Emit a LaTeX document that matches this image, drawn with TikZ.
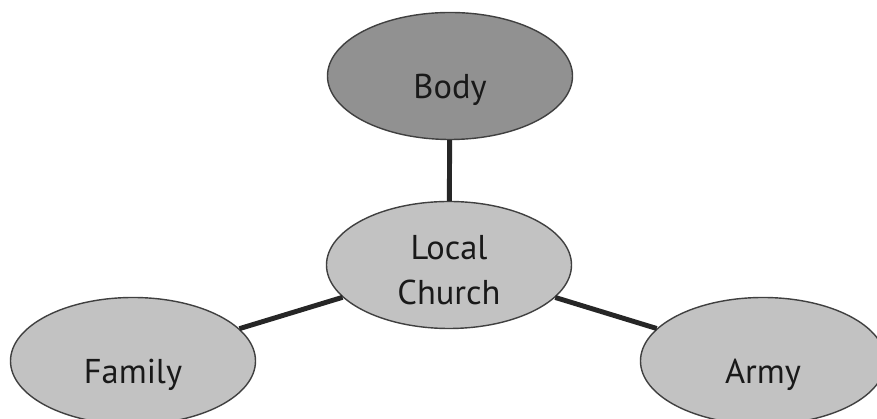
\documentclass[tikz,border=0pt]{standalone}
\usepackage{fontspec}
\setmainfont{PT Sans}
\usetikzlibrary{positioning}
\usetikzlibrary{shapes.geometric}

\newcommand{\bubbletext}[2][-6.4pt]{\raisebox{#1}[0pt][0pt]{\begin{tabular}{@{}c@{}}#2\end{tabular}}}

\tikzset{
	bubble/.style={ellipse, draw=black!75, line width=0.4pt, minimum width=2.45cm, minimum height=1.27cm, inner sep=0pt, font=\fontsize{9.8}{12.8}\selectfont, text=black!90},
	link/.style={line width=1.4pt, black!85}
}

\begin{document}
\begin{tikzpicture}
		% Fix the page to the reference size
		\clip (0,0) rectangle (8.77,4.19);
		\useasboundingbox (0,0) rectangle (8.77,4.19);

		% Define the centres of the ellipses
		\coordinate (B) at (4.50,3.43);
		\coordinate (L) at (4.49,1.54);
		\coordinate (F) at (1.33,0.58);
		\coordinate (A) at (7.63,0.58);

		% Draw the ellipses
		\node[bubble, fill=black!43] (body) at (B) {\bubbletext{Body}};
		\node[bubble, fill=black!24] (church) at (L) {\bubbletext[-4.8pt]{Local\\Church}};
		\node[bubble, fill=black!24] (family) at (F) {\bubbletext{Family}};
		\node[bubble, fill=black!24] (army) at (A) {\bubbletext{Army}};

		% Draw the lines
		\draw[link] (body) -- (church);
		\draw[link] (church) -- (family);
		\draw[link] (church) -- (army);
	\end{tikzpicture}
\end{document}
